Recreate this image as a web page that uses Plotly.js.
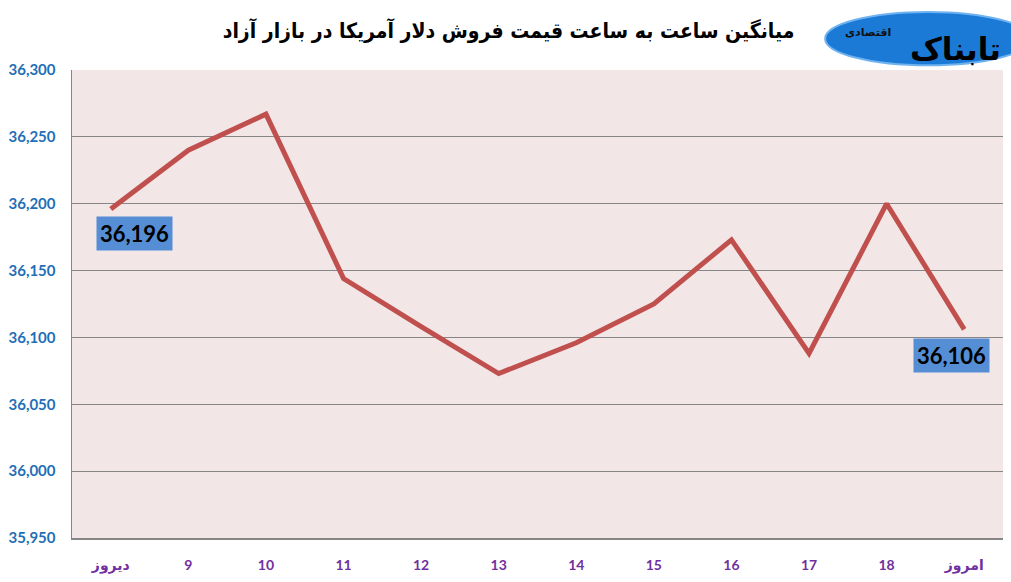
<!DOCTYPE html>
<html>
<head>
<meta charset="utf-8">
<script src="https://cdn.plot.ly/plotly-3.0.1.min.js"></script>
<style>html,body{margin:0;padding:0;background:#fff;}#chart{width:1011px;height:582px;}</style>
</head>
<body>
<div id="chart"></div>
<script>
var categories = ["دیروز", "9", "10", "11", "12", "13", "14", "15", "16", "17", "18", "امروز"];
var prices = [36196, 36240, 36267, 36144, 36108, 36073, 36096, 36125, 36173, 36088, 36200, 36106];
var yTicks = [35950, 36000, 36050, 36100, 36150, 36200, 36250, 36300];
var yTickLabels = ["35,950", "36,000", "36,050", "36,100", "36,150", "36,200", "36,250", "36,300"];
var titleText = "میانگین ساعت به ساعت قیمت فروش دلار آمریکا در بازار آزاد";
var firstLabel = "36,196";
var lastLabel = "36,106";

var trace = {
  x: categories,
  y: prices,
  type: "scatter",
  mode: "lines",
  line: {color: "#c0504d", width: 5},
  hoverinfo: "x+y"
};

var layout = {
  width: 1011,
  height: 582,
  margin: {l: 72, r: 8, t: 70, b: 44},
  paper_bgcolor: "#ffffff",
  plot_bgcolor: "#f2e6e6",
  showlegend: false,
  title: {
    text: "<b>" + titleText + "</b>",
    x: 0.503, xanchor: "center", y: 0.948, yanchor: "middle",
    font: {family: "DejaVu Sans Condensed, DejaVu Sans, sans-serif", size: 21, color: "#000000"}
  },
  xaxis: {
    type: "category",
    range: [-0.5, 11.5],
    showgrid: false,
    zeroline: false,
    showline: true,
    linecolor: "#868686",
    linewidth: 1.5,
    ticks: "outside",
    ticklen: 14,
    tickcolor: "rgba(0,0,0,0)",
    tickfont: {family: "Lato, DejaVu Sans, sans-serif", size: 14, color: "#7030a0", weight: "bold"},
    fixedrange: true
  },
  yaxis: {
    range: [35950, 36300],
    tickvals: yTicks,
    ticktext: yTickLabels,
    showgrid: true,
    gridcolor: "#868686",
    gridwidth: 1,
    zeroline: false,
    showline: true,
    linecolor: "#868686",
    linewidth: 1.5,
    ticks: "outside",
    ticklen: 12,
    tickcolor: "rgba(0,0,0,0)",
    tickfont: {family: "Lato, Open Sans, sans-serif", size: 15, color: "#1f6fb8", weight: "bold"},
    fixedrange: true
  },
  shapes: [
    {type: "circle", xref: "paper", yref: "paper", x0: 0.809, x1: 1.03, y0: 1.01, y1: 1.124,
     fillcolor: "#1a7ad6", line: {color: "#6fb2f0", width: 2}, layer: "above"}
  ],
  annotations: [
    {x: categories[0], y: prices[0], xref: "x", yref: "y", text: firstLabel, showarrow: false,
     xanchor: "center", yanchor: "middle", xshift: 24, yshift: -24,
     bgcolor: "#558ed5", borderpad: 3, width: 69, height: 27,
     font: {family: "Lato, Open Sans, sans-serif", size: 22, color: "#000000", weight: "bold"}},
    {x: categories[categories.length - 1], y: prices[prices.length - 1], xref: "x", yref: "y", text: lastLabel, showarrow: false,
     xanchor: "center", yanchor: "middle", xshift: -13, yshift: -26,
     bgcolor: "#558ed5", borderpad: 3, width: 69, height: 27,
     font: {family: "Lato, Open Sans, sans-serif", size: 22, color: "#000000", weight: "bold"}},
    {x: 1.0, y: 1.045, xref: "paper", yref: "paper", text: "<b>تابناک</b>", showarrow: false,
     xanchor: "right", yanchor: "middle",
     font: {family: "DejaVu Sans, sans-serif", size: 31, color: "#000000"}},
    {x: 0.855, y: 1.08, xref: "paper", yref: "paper", text: "<b>اقتصادی</b>", showarrow: false,
     xanchor: "center", yanchor: "middle",
     font: {family: "DejaVu Sans, sans-serif", size: 11, color: "#111111"}}
  ]
};

Plotly.newPlot("chart", [trace], layout, {displayModeBar: false, staticPlot: true});
</script>
</body>
</html>
